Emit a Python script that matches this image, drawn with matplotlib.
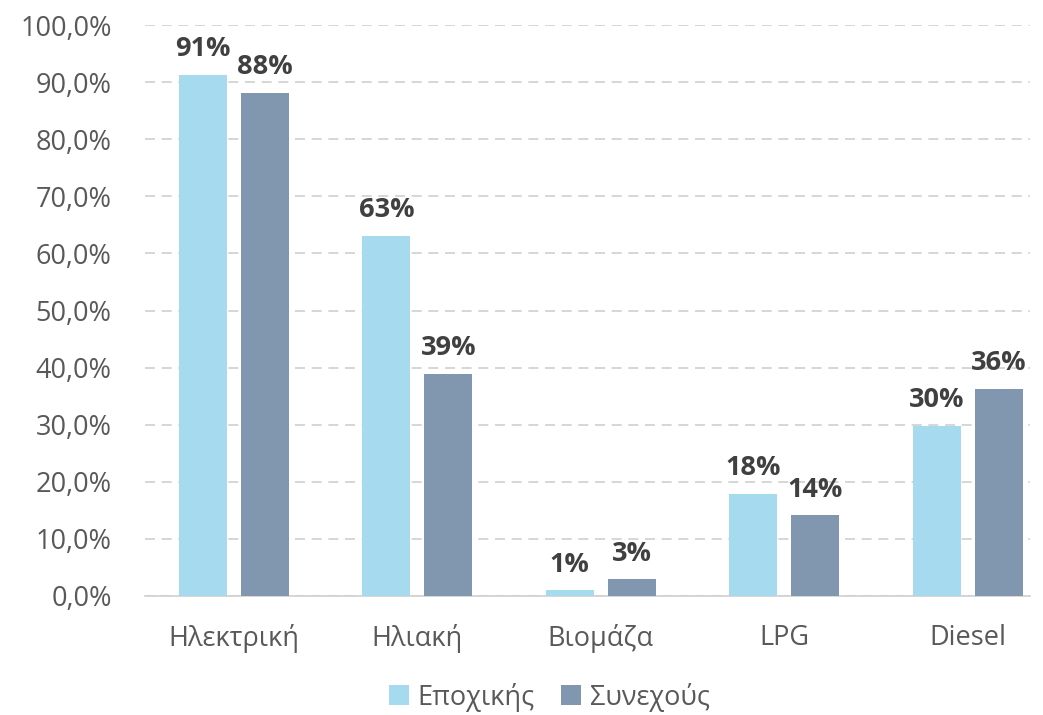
import matplotlib.pyplot as plt
import numpy as np

plt.rcParams['font.family'] = ['Open Sans', 'DejaVu Sans']

categories = ['Ηλεκτρική', 'Ηλιακή', 'Βιομάζα', 'LPG', 'Diesel']
seasonal = [91.3, 63.1, 1.0, 17.9, 29.8]
continuous = [88.1, 38.9, 2.9, 14.1, 36.3]
series_names = ['Εποχικής', 'Συνεχούς']
colors = ['#A6DAEF', '#8196AF']

fig = plt.figure(figsize=(10.43, 7.15), dpi=100)
ax = fig.add_axes([145 / 1043, 1 - 596 / 715, 885 / 1043, 571 / 715])

x = np.arange(len(categories))
w = 0.262
off = 0.169
b1 = ax.bar(x - off, seasonal, w, color=colors[0], label=series_names[0], zorder=3)
b2 = ax.bar(x + off, continuous, w, color=colors[1], label=series_names[1], zorder=3)

for bars, vals in [(b1, seasonal), (b2, continuous)]:
    for bar, v in zip(bars, vals):
        ax.text(bar.get_x() + bar.get_width() / 2, v + 2.2, f'{round(v)}%',
                ha='center', va='bottom', fontsize=19.5, fontweight='bold', color='#404040')

ax.set_ylim(0, 100)
ax.set_xlim(-0.485, 4.34)
ax.set_yticks(np.arange(0, 101, 10))
ax.set_yticklabels([f'{t:.1f}%'.replace('.', ',') for t in range(0, 101, 10)])
ax.set_xticks(x)
ax.set_xticklabels(categories)
ax.tick_params(axis='both', length=0, labelsize=19.5, colors='#595959')
ax.tick_params(axis='x', pad=20)
ax.tick_params(axis='y', pad=24)

ax.yaxis.grid(True, color='#D0D0D0', linestyle=(0, (6, 4)), linewidth=1.2, zorder=0)
for s in ['top', 'right', 'left']:
    ax.spines[s].set_visible(False)
ax.spines['bottom'].set_color('#D0D0D0')
ax.spines['bottom'].set_linewidth(1.2)

fig.legend(handles=[b1, b2], loc='center', bbox_to_anchor=(549 / 1043, 1 - 697 / 715), ncol=2,
           frameon=False, fontsize=19.5, labelcolor='#595959', handlelength=0.75,
           handleheight=0.75, handletextpad=0.3, columnspacing=1.0)

fig.savefig('out.png', dpi=100)
